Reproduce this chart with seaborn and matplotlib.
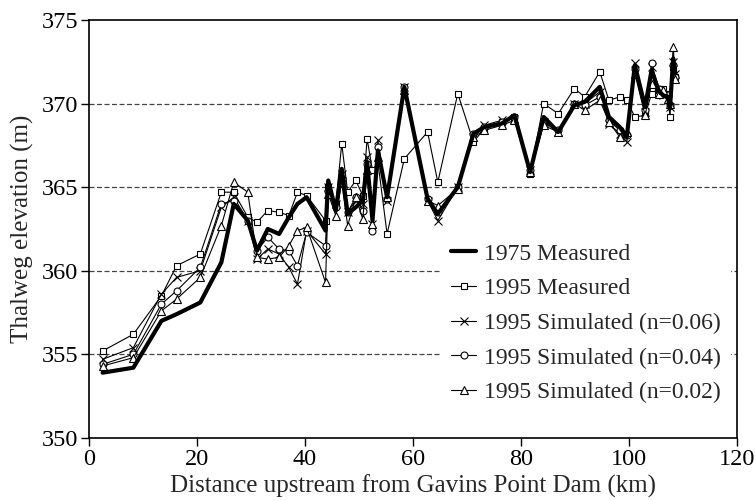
import matplotlib
matplotlib.use("Agg")
import matplotlib.pyplot as plt
import seaborn as sns
import pandas as pd

# Cross-section stations (km upstream of Gavins Point Dam)
km = [2.5, 8.2, 13.4, 16.2, 20.6, 24.5, 26.8, 29.4, 31.1, 33.1, 35.2, 37.0, 38.6,
      40.3, 43.8, 44.3, 45.7, 46.8, 47.9, 49.4, 50.7, 51.5, 52.5, 53.5, 55.2, 58.4,
      62.7, 64.6, 68.3, 71.2, 73.2, 76.4, 78.8, 81.7, 84.2, 86.9, 89.9, 91.8, 94.6,
      96.3, 98.3, 99.6, 101.1, 103.0, 104.2, 105.5, 106.3, 107.2, 107.6, 108.2, 108.6]

# Thalweg elevations (m)
measured_1975 = [353.9, 354.2, 357.0, 357.4, 358.1, 360.5, 364.0, 363.0, 361.2, 362.5,
                 362.2, 363.2, 364.0, 364.4, 362.4, 365.4, 363.6, 366.1, 363.4, 363.8,
                 364.2, 366.5, 363.0, 367.2, 364.4, 371.0, 364.3, 363.4, 365.0, 368.2,
                 368.6, 368.8, 369.3, 365.9, 369.2, 368.3, 369.9, 370.1, 371.0, 369.2,
                 368.6, 368.0, 372.3, 369.8, 372.0, 370.8, 370.5, 370.4, 369.7, 372.7,
                 371.8]
measured_1995 = [355.2, 356.2, 358.5, 360.3, 361.0, 364.7, 364.7, 363.2, 362.9, 363.6,
                 363.5, 363.3, 364.7, 364.5, 363.0, 365.0, 364.0, 367.6, 364.7, 365.4,
                 364.5, 367.9, 366.0, 366.5, 362.2, 366.7, 368.3, 365.3, 370.6, 367.7,
                 368.5, 368.9, 369.2, 365.8, 370.0, 369.4, 370.9, 370.4, 371.9, 370.2,
                 370.4, 370.2, 369.2, 369.3, 370.6, 370.9, 370.9, 370.6, 369.2, 372.2,
                 371.6]
sim_n006 = [354.7, 355.4, 358.6, 359.6, 360.0, 363.8, 364.4, 363.0, 360.7, 361.3,
            361.0, 360.2, 359.2, 362.4, 361.0, 365.0, 364.0, 365.8, 363.5, 364.2,
            364.0, 366.8, 362.8, 367.8, 364.2, 371.0, 364.2, 363.0, 365.0, 368.0,
            368.7, 369.0, 369.1, 366.0, 368.9, 368.3, 370.0, 370.0, 370.7, 368.8,
            368.2, 367.7, 372.4, 369.5, 372.2, 370.8, 370.5, 370.2, 369.8, 372.5,
            371.8]
sim_n004 = [354.4, 355.0, 358.0, 358.8, 360.2, 364.0, 364.2, 363.0, 361.2, 362.0,
            361.3, 361.2, 360.3, 362.3, 361.5, 364.8, 363.8, 365.5, 363.5, 364.4,
            363.6, 366.4, 362.4, 367.4, 364.3, 371.0, 364.3, 363.5, 365.0, 368.2,
            368.6, 368.9, 369.2, 366.0, 369.0, 368.4, 370.0, 369.9, 370.4, 369.0,
            368.4, 368.1, 372.1, 369.6, 372.4, 370.9, 370.6, 370.5, 369.9, 372.3,
            371.6]
sim_n002 = [354.3, 354.8, 357.6, 358.3, 359.6, 362.7, 365.3, 364.7, 360.8, 360.7,
            360.8, 361.5, 362.4, 362.6, 359.3, 364.6, 363.3, 365.3, 362.7, 364.4,
            363.1, 366.0, 362.8, 366.8, 364.4, 370.8, 364.2, 363.9, 364.9, 368.0,
            368.4, 368.7, 369.0, 365.9, 368.7, 368.3, 370.0, 369.6, 370.2, 368.9,
            368.0, 368.3, 371.8, 369.3, 371.2, 370.6, 370.8, 370.3, 370.0, 373.4,
            371.5]

series_names = ["1975 Measured", "1995 Measured", "1995 Simulated (n=0.06)",
                "1995 Simulated (n=0.04)", "1995 Simulated (n=0.02)"]
series_values = [measured_1975, measured_1995, sim_n006, sim_n004, sim_n002]

frames = [pd.DataFrame({"km": km, "elev": v, "series": n})
          for n, v in zip(series_names, series_values)]
df = pd.concat(frames, ignore_index=True)

sns.set_theme(style="ticks")
plt.rcParams["font.family"] = ["Liberation Serif", "DejaVu Serif"]

fig = plt.figure(figsize=(7.55, 5.01), dpi=100)
ax = fig.add_axes([0.118, 0.126, 0.858, 0.834])

styles = {
    "1975 Measured": dict(marker=None, lw=3.0, ms=0, z=4),
    "1995 Measured": dict(marker="s", lw=0.8, ms=5, z=3),
    "1995 Simulated (n=0.06)": dict(marker="x", lw=0.8, ms=6, z=3),
    "1995 Simulated (n=0.04)": dict(marker="o", lw=0.8, ms=5, z=3),
    "1995 Simulated (n=0.02)": dict(marker="^", lw=0.8, ms=6, z=3),
}

for name in series_names:
    st = styles[name]
    sub = df[df["series"] == name]
    kw = dict(x="km", y="elev", data=sub, ax=ax, color="black", lw=st["lw"],
              sort=False, label=name, zorder=st["z"], estimator=None)
    if st["marker"] is not None:
        kw.update(marker=st["marker"], markersize=st["ms"],
                  markerfacecolor="white", markeredgecolor="black",
                  markeredgewidth=0.8)
    sns.lineplot(**kw)

ax.set_xlim(0, 120)
ax.set_ylim(350, 375)
ax.set_xticks(range(0, 121, 20))
ax.set_yticks(range(350, 376, 5))

# dashed reference lines at the intermediate elevations
for y in [355, 360, 365, 370]:
    ax.axhline(y, color="#444444", lw=0.9, ls=(0, (4, 2)), zorder=1)

for side in ["top", "right", "left", "bottom"]:
    ax.spines[side].set_visible(True)
    ax.spines[side].set_color("black")
    ax.spines[side].set_linewidth(1.2)
    ax.spines[side].set_zorder(6)

ax.tick_params(axis="both", direction="out", length=6, width=1, labelsize=17.5,
               colors="black", top=False, right=False, pad=2)

ax.set_xlabel("Distance upstream from Gavins Point Dam (km)", fontsize=18, labelpad=3)
ax.set_ylabel("Thalweg elevation (m)", fontsize=18, labelpad=5)

leg = ax.legend(loc="upper left", bbox_to_anchor=(0.537, 0.50), fontsize=17,
                frameon=True, fancybox=False, framealpha=1, facecolor="white",
                edgecolor="white", handlelength=1.06, handletextpad=0.34,
                labelspacing=0.555, borderpad=0.4, borderaxespad=0.2)
leg.set_zorder(2)

fig.savefig("out.png", dpi=100, facecolor="white")
